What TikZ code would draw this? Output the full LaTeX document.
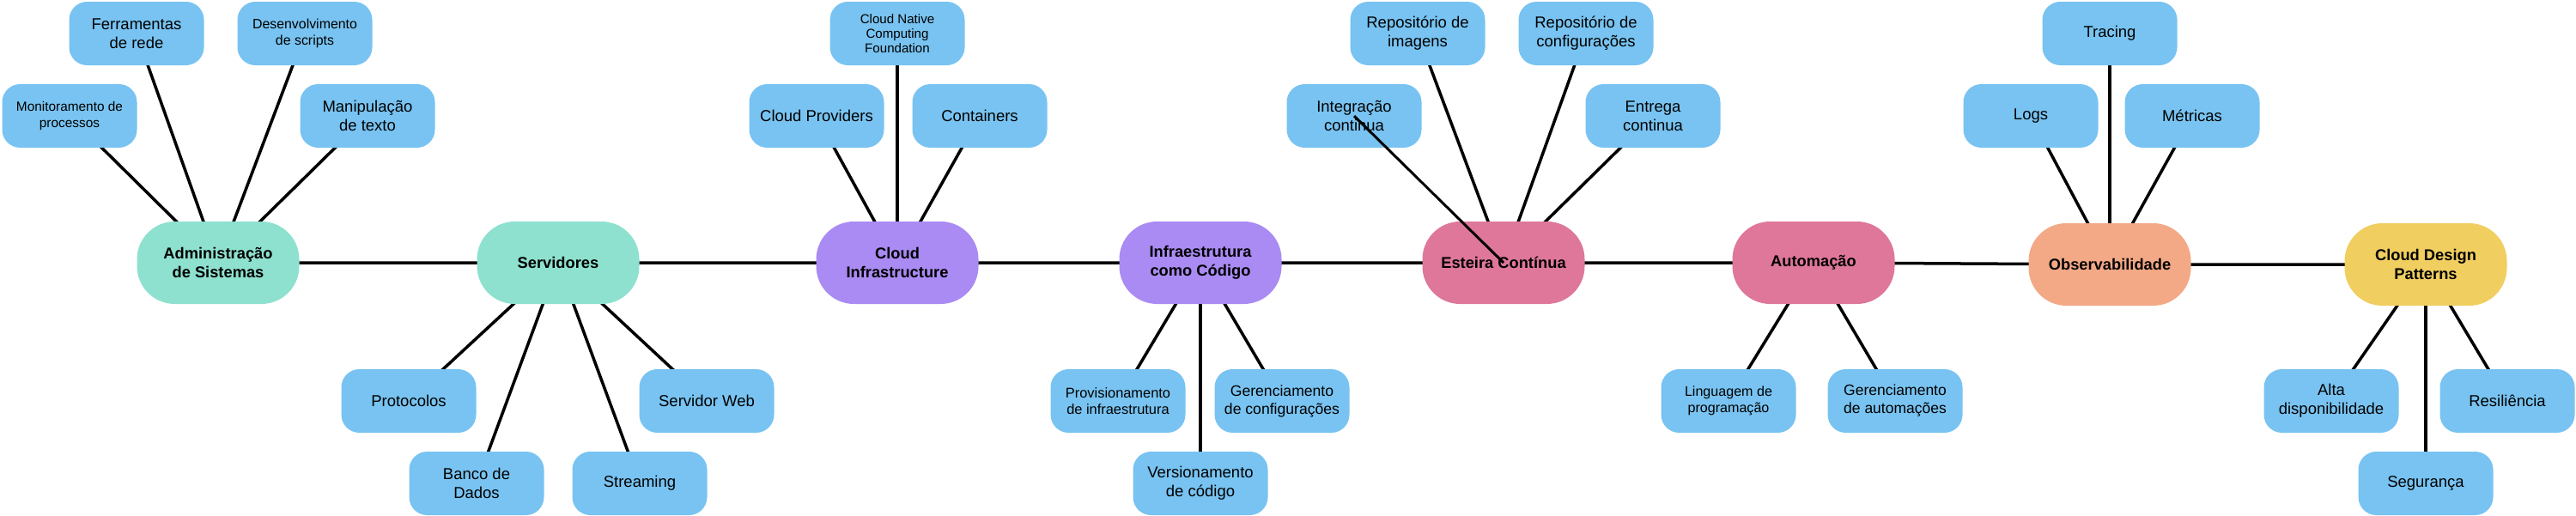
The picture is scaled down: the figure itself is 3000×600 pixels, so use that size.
\documentclass[tikz,border=0pt]{standalone}
\usepackage{fontspec}
\setmainfont{Liberation Sans}
\pgfdeclarelayer{background}
\pgfsetlayers{background,main}
\definecolor{cgreen}{RGB}{142,225,207}
\definecolor{cpurple}{RGB}{169,139,243}
\definecolor{cpink}{RGB}{222,119,154}
\definecolor{corange}{RGB}{243,168,134}
\definecolor{cyellow}{RGB}{240,206,96}
\definecolor{cblue}{RGB}{120,195,241}
\tikzset{
  hub/.style={rounded corners=44pt, minimum width=189pt, minimum height=96pt, inner sep=0pt, align=center, font=\bfseries\fontsize{18.3}{22}\selectfont},
  leaf/.style={fill=cblue, rounded corners=21pt, minimum width=157pt, minimum height=74pt, inner sep=0pt, align=center, font=\fontsize{18.5}{22}\selectfont},
  link/.style={line width=3.5pt, black},
}
\begin{document}
\begin{tikzpicture}[x=1pt,y=-1pt]
\useasboundingbox (0,0) rectangle (3000,600);
% hubs
\node[hub, fill=cgreen] (admin) at (254,306) {Administração\\de Sistemas};
\node[hub, fill=cgreen] (serv) at (650,306) {Servidores};
\node[hub, fill=cpurple] (cloud) at (1045,306) {Cloud\\Infrastructure};
\node[hub, fill=cpurple] (iac) at (1398,306) {Infraestrutura\\como Código};
\node[hub, fill=cpink] (est) at (1751,306) {Esteira Contínua};
\node[hub, fill=cpink] (auto) at (2112,306) {Automação};
\node[hub, fill=corange] (obs) at (2457,308) {Observabilidade};
\node[hub, fill=cyellow] (cdp) at (2825,308) {Cloud Design\\Patterns};
% leaves
\node[leaf] (ferr) at (159,39) {Ferramentas\\de rede};
\node[leaf, font=\fontsize{15.9}{19}\selectfont] (dev) at (355,39) {Desenvolvimento\\de scripts};
\node[leaf, font=\fontsize{15.4}{18.5}\selectfont] (mon) at (81,135) {Monitoramento de\\processos};
\node[leaf] (man) at (428,135) {Manipulação\\de texto};
\node[leaf] (prot) at (476,467) {Protocolos};
\node[leaf] (sweb) at (823,467) {Servidor Web};
\node[leaf] (banco) at (555,563) {Banco de\\Dados};
\node[leaf] (stream) at (745,563) {Streaming};
\node[leaf, font=\fontsize{15.1}{17}\selectfont] (cncf) at (1045,39) {Cloud Native\\Computing\\Foundation};
\node[leaf] (cprov) at (951,135) {Cloud Providers};
\node[leaf] (cont) at (1141,135) {Containers};
\node[leaf, font=\fontsize{16.4}{19.5}\selectfont] (prov) at (1302,467) {Provisionamento\\de infraestrutura};
\node[leaf, font=\fontsize{17.6}{21}\selectfont] (gconf) at (1493,467) {Gerenciamento\\de configurações};
\node[leaf] (vers) at (1398,563) {Versionamento\\de código};
\node[leaf] (repimg) at (1651,39) {Repositório de\\imagens};
\node[leaf] (repconf) at (1847,39) {Repositório de\\configurações};
\node[leaf] (integ) at (1577,135) {Integração\\continua};
\node[leaf] (entr) at (1925,135) {Entrega\\continua};
\node[leaf, font=\fontsize{16.1}{19}\selectfont] (ling) at (2013,467) {Linguagem de\\programação};
\node[leaf, font=\fontsize{17.5}{21}\selectfont] (gaut) at (2207,467) {Gerenciamento\\de automações};
\node[leaf] (trac) at (2457,39) {Tracing};
\node[leaf] (logs) at (2365,135) {Logs};
\node[leaf] (metr) at (2553,135) {Métricas};
\node[leaf] (alta) at (2715,467) {Alta\\disponibilidade};
\node[leaf] (resil) at (2920,467) {Resiliência};
\node[leaf] (seg) at (2825,563) {Segurança};
% connectors behind nodes
\begin{pgfonlayer}{background}
\draw[link] (admin.center) -- (serv.center) -- (cloud.center) -- (iac.center) -- (est.center) -- (auto.center) -- (obs.center) -- (cdp.center);
\foreach \c in {ferr,dev,mon,man} \draw[link] (admin.center) -- (\c.center);
\foreach \c in {prot,sweb,banco,stream} \draw[link] (serv.center) -- (\c.center);
\foreach \c in {cncf,cprov,cont} \draw[link] (cloud.center) -- (\c.center);
\foreach \c in {prov,gconf,vers} \draw[link] (iac.center) -- (\c.center);
\foreach \c in {repimg,repconf,entr} \draw[link] (est.center) -- (\c.center);
\foreach \c in {ling,gaut} \draw[link] (auto.center) -- (\c.center);
\foreach \c in {trac,logs,metr} \draw[link] (obs.center) -- (\c.center);
\foreach \c in {alta,resil,seg} \draw[link] (cdp.center) -- (\c.center);
\end{pgfonlayer}
% the one connector drawn over its nodes
\draw[black, line width=3pt] (integ.center) -- (est.center);
\end{tikzpicture}
\end{document}
